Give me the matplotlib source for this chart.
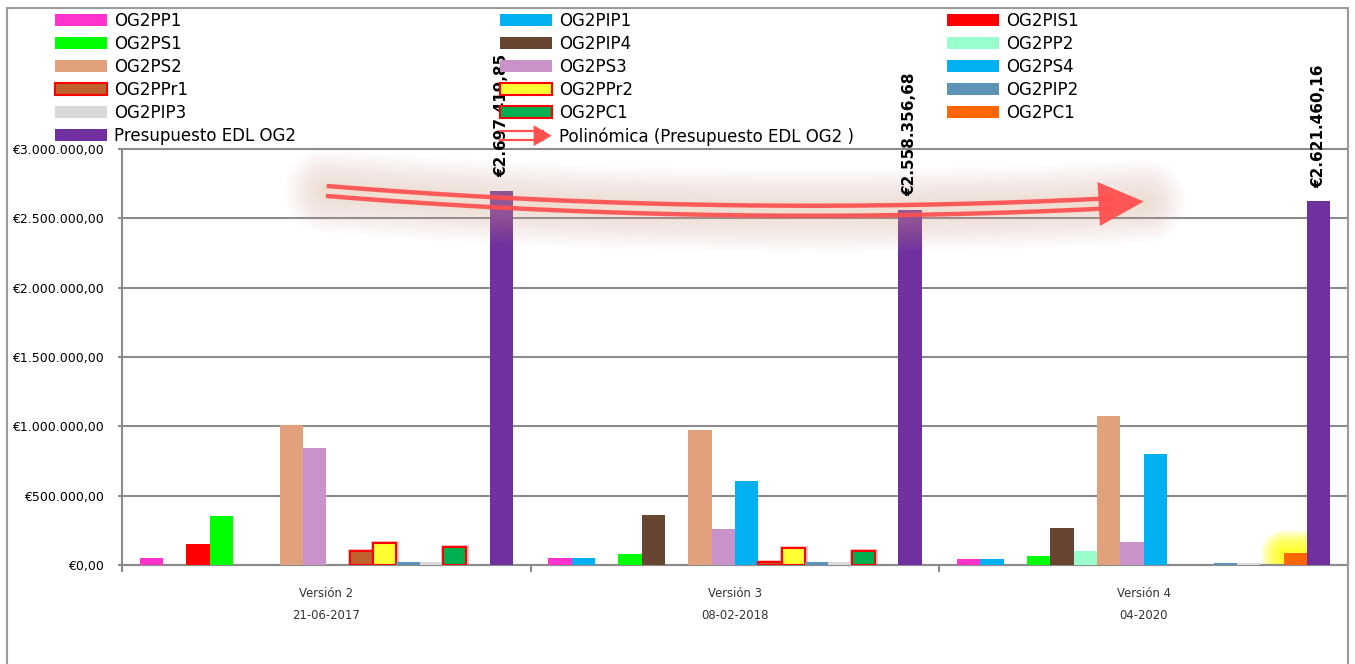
import matplotlib
matplotlib.use("Agg")
import matplotlib.pyplot as plt
import numpy as np
from matplotlib.patches import Rectangle, Polygon, Patch
from matplotlib.lines import Line2D
from matplotlib.legend_handler import HandlerBase

# ---------------- data ----------------
group_names = ["Versión 2", "Versión 3", "Versión 4"]
group_dates = ["21-06-2017", "08-02-2018", "04-2020"]

series_names = ["OG2PP1", "OG2PIP1", "OG2PIS1", "OG2PS1", "OG2PIP4", "OG2PP2",
                "OG2PS2", "OG2PS3", "OG2PS4", "OG2PPr1", "OG2PPr2", "OG2PIP2",
                "OG2PIP3", "OG2PC1", "OG2PC1", "Presupuesto EDL OG2"]

og2pp1 = [50000, 48000, 45000]
og2pip1 = [0, 48000, 45000]
og2pis1 = [150000, 0, 0]
og2ps1 = [350000, 82000, 63000]
og2pip4 = [0, 358000, 270000]
og2pp2 = [0, 0, 102000]
og2ps2 = [1012000, 976000, 1078000]
og2ps3 = [843000, 262000, 168000]
og2ps4 = [0, 603000, 801000]
og2ppr1 = [99000, 19000, 0]
og2ppr2 = [157000, 121000, 0]
og2pip2 = [24000, 24000, 17000]
og2pip3 = [19000, 24000, 17000]
og2pc1_green = [131000, 99000, 0]
og2pc1_orange = [0, 0, 87000]
presupuesto = [2697419.85, 2558356.68, 2621460.16]

values = [og2pp1, og2pip1, og2pis1, og2ps1, og2pip4, og2pp2, og2ps2, og2ps3,
          og2ps4, og2ppr1, og2ppr2, og2pip2, og2pip3, og2pc1_green,
          og2pc1_orange, presupuesto]

colors = ["#FF33CC", "#00B0F0", "#FF0000", "#00FF00", "#684530", "#99FFCC",
          "#E1A17D", "#C993C9", "#00B0F0", "#C0622E", "#FFFF33", "#5E93B8",
          "#D9D9D9", "#00B050", "#FF6600", "#7030A0"]
red_edged = {9, 10, 13}

trend_label = "Polinómica (Presupuesto EDL OG2 )"

# ---------------- helpers ----------------
def euro(v):
    s = f"{v:,.2f}"
    return "€" + s.replace(",", "X").replace(".", ",").replace("X", ".")

W, H = 1355, 664
def fx(px):
    return px / W
def fy(py):
    return 1 - py / H

plt.rcParams["font.family"] = ["DejaVu Sans"]
fig = plt.figure(figsize=(W / 100, H / 100), dpi=100)
fig.patch.set_facecolor("white")

ax = fig.add_axes([fx(122), fy(565), fx(1348) - fx(122), fy(149) - fy(565)])
ax.set_xlim(-0.5, 2.5)
ax.set_ylim(0, 3.0e6)
ax.set_facecolor("none")

GRID = "#8C8C8C"
yt = np.arange(0, 3.0e6 + 1, 5e5)
ax.set_yticks(yt)
ax.set_yticklabels([euro(v) for v in yt])
ax.yaxis.grid(True, color=GRID, lw=1.5)
for gl in ax.get_ygridlines():
    gl.set_clip_on(False)
ax.set_axisbelow(True)
for s in ["top", "right"]:
    ax.spines[s].set_visible(False)
for s in ["left", "bottom"]:
    ax.spines[s].set_color(GRID)
    ax.spines[s].set_linewidth(1.5)
ax.tick_params(axis="y", length=3, width=1.5, color=GRID, labelsize=9, pad=10)

x_idx = np.arange(len(group_names))
ax.set_xticks(x_idx)
ax.set_xticklabels([""] * len(x_idx))
ax.tick_params(axis="x", which="major", length=0)
ax.set_xticks([-0.5, 0.5, 1.5], minor=True)
ax.tick_params(axis="x", which="minor", length=5, width=1.5, color=GRID)
for g, nm, dt in zip(x_idx, group_names, group_dates):
    ax.annotate(nm, (g, 0), xycoords=("data", "axes fraction"),
                xytext=(0, -20.2), textcoords="offset points", ha="center",
                va="center", fontsize=8.4, color="#333333", annotation_clip=False)
    ax.annotate(dt, (g, 0), xycoords=("data", "axes fraction"),
                xytext=(0, -36.7), textcoords="offset points", ha="center",
                va="center", fontsize=8.4, color="#333333", annotation_clip=False)

# ---------------- bars ----------------
n = len(values)
w = 1.0 / (n + 1.5)
handles = []
for i, (vals, col) in enumerate(zip(values, colors)):
    vals = np.asarray(vals, dtype=float)
    xs = x_idx - 0.5 + (0.75 + i + 0.5) * w
    mask = vals > 0
    if i in red_edged:
        ax.bar(xs[mask], vals[mask], w, color="none", edgecolor=(1, 0, 0, 0.25),
               linewidth=3.5, zorder=2)
        ax.bar(xs[mask], vals[mask], w, color=col, edgecolor="#FF0000",
               linewidth=1.5, zorder=3)
        handles.append(Patch(facecolor=col, edgecolor="#FF0000", linewidth=1.5))
    else:
        if i == 14:
            # yellow glow behind the orange bar
            for lw in np.linspace(32, 6, 9):
                ax.bar(xs[mask], vals[mask], w, color="none",
                       edgecolor=(1, 1, 0, 0.16), linewidth=lw, zorder=2,
                       joinstyle="round")
        ax.bar(xs[mask], vals[mask], w, color=col, linewidth=0, zorder=3)
        handles.append(Patch(facecolor=col, edgecolor="none"))

# data labels on Presupuesto bars
xp = x_idx - 0.5 + (0.75 + 15 + 0.5) * w
for xv, v in zip(xp, presupuesto):
    ax.annotate(euro(v), (xv, v), xytext=(0, 10), textcoords="offset points",
                rotation=90, ha="center", va="bottom", fontsize=11,
                fontweight="bold", color="black", annotation_clip=False,
                zorder=8)

# ---------------- polynomial trendline (order 2) ----------------
coef = np.polyfit(x_idx, presupuesto, 2)
xs_t = np.linspace(0, 2, 300)
ys_t = np.polyval(coef, xs_t)
inv = ax.transData.inverted()
pts = ax.transData.transform(np.column_stack([xs_t, ys_t]))
d = np.gradient(pts, axis=0)
d /= np.linalg.norm(d, axis=1)[:, None]
nrm = np.column_stack([-d[:, 1], d[:, 0]])

# soft glow
for lw_px in np.linspace(84, 8, 22):
    ax.plot(xs_t, ys_t, color="#EFB796", alpha=0.019, lw=lw_px * 0.72,
            solid_capstyle="round", zorder=5, clip_on=False)

tip = pts[-1]
dend = d[-1]
nend = nrm[-1]
head_len, head_half = 45, 22
dist_from_tip = np.linalg.norm(pts - tip, axis=1)
keep = (dist_from_tip > 30)
RED = "#FF4F4F"
for sgn in (1, -1):
    off = pts[keep] + sgn * 5 * nrm[keep]
    od = inv.transform(off)
    ax.plot(od[:, 0], od[:, 1], color=RED, lw=3.2, solid_capstyle="butt",
            zorder=6, alpha=0.92, clip_on=False)
base = tip - dend * head_len
tri_px = np.array([base + nend * head_half, tip, base - nend * head_half])
tri = Polygon(inv.transform(tri_px), closed=True, facecolor=RED,
              edgecolor="none", zorder=6, alpha=0.95, clip_on=False)
ax.add_patch(tri)

# ---------------- legend ----------------
class DoubleArrowHandler(HandlerBase):
    def create_artists(self, legend, orig_handle, xdescent, ydescent, width,
                       height, fontsize, trans):
        cy = height / 2 - ydescent
        x0 = -xdescent
        x1 = x0 + width
        l1 = Line2D([x0, x1 - 6], [cy + 3.4, cy + 3.4], color=RED, lw=1.6,
                    transform=trans)
        l2 = Line2D([x0, x1 - 6], [cy - 3.4, cy - 3.4], color=RED, lw=1.6,
                    transform=trans)
        t = Polygon([[x1 - 13, cy + 7.5], [x1, cy], [x1 - 13, cy - 7.5]],
                    closed=True, facecolor=RED, edgecolor="none",
                    transform=trans)
        return [l1, l2, t]

trend_handle = Line2D([], [], color=RED)
all_handles = handles + [trend_handle]
all_labels = series_names + [trend_label]

col_x = [55, 500, 947]
for c in range(3):
    hs = all_handles[c::3]
    ls = all_labels[c::3]
    fig.legend(hs, ls, loc="upper left",
               bbox_to_anchor=(fx(col_x[c]), fy(12)),
               bbox_transform=fig.transFigure,
               frameon=False, fontsize=12, handlelength=3.1, handleheight=0.72,
               handletextpad=0.45, labelspacing=0.3, borderpad=0,
               borderaxespad=0,
               handler_map={trend_handle: DoubleArrowHandler()})

# chart border
fig.add_artist(Rectangle((fx(7), fy(720)), fx(1348) - fx(7), fy(8) - fy(720),
                         transform=fig.transFigure, fill=False,
                         edgecolor="#9A9A9A", lw=1.5, zorder=20))

fig.savefig("out.png", dpi=100)
